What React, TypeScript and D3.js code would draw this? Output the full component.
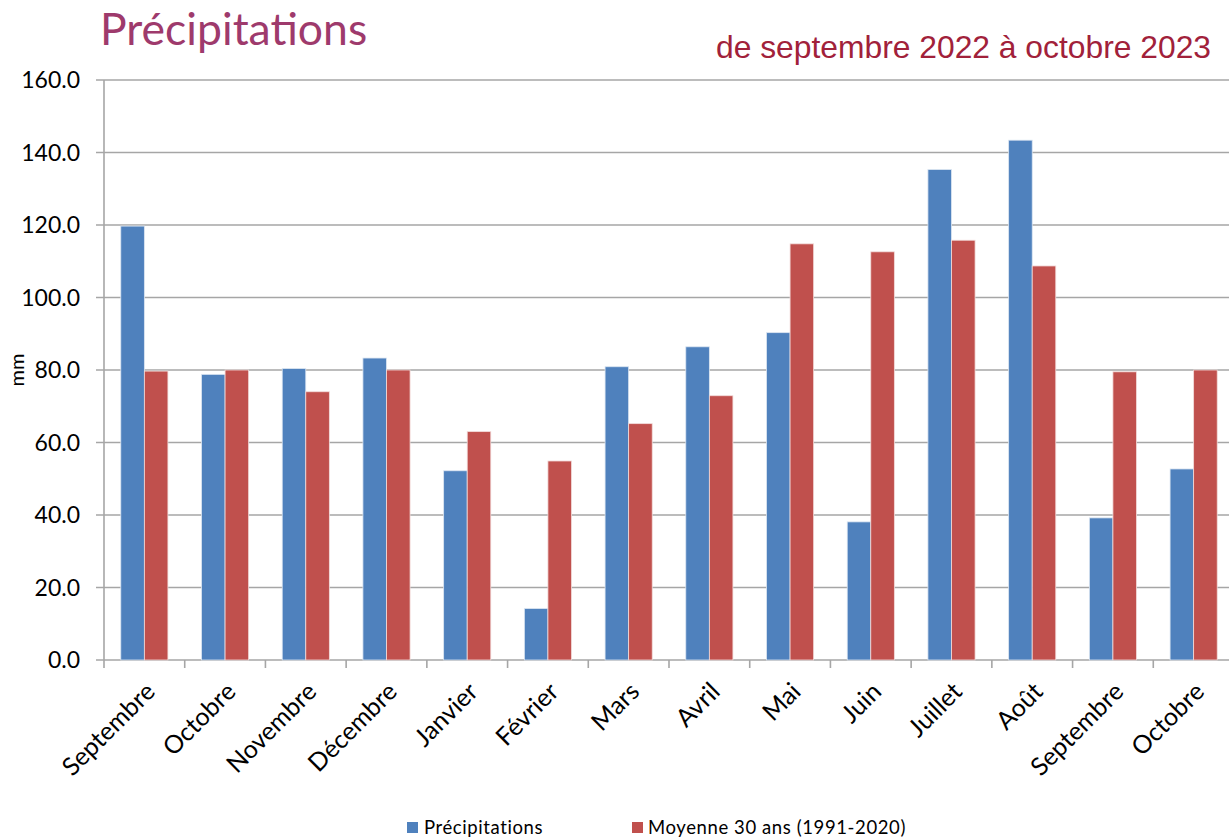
import React from "react";
import * as d3 from "d3";

const categories = ["Septembre","Octobre","Novembre","Décembre","Janvier","Février","Mars","Avril","Mai","Juin","Juillet","Août","Septembre","Octobre"];
const precipitations = [119.7,78.8,80.4,83.3,52.2,14.2,80.9,86.4,90.3,38.1,135.3,143.4,39.2,52.7];
const moyenne = [79.7,80.0,74.0,80.0,63.0,54.9,65.2,72.9,114.8,112.6,115.8,108.7,79.5,80.0];
const yTicks = [0,20,40,60,80,100,120,140,160];

const W = 1229, H = 840;
const left = 104, top = 80, bottom = 660, right = 1234;

export default function App() {
  const x = d3.scaleBand<number>().domain(d3.range(categories.length)).range([left, right]);
  const y = d3.scaleLinear().domain([0, 160]).range([bottom, top]);
  const bw = x.bandwidth();
  const barW = bw * 0.292;
  const off = (bw - 2 * barW) / 2;
  const font = "Lato, 'Open Sans', sans-serif";
  return (
    <svg width={W} height={H} style={{ position: "absolute", left: 0, top: 0, background: "#fff" }}>
      <text x={100} y={45} fontFamily={font} fontSize={44.5} fill="#9E3A6C">Précipitations</text>
      <text x={1211} y={58} textAnchor="end" fontFamily="'Liberation Sans', Arial, sans-serif" fontSize={31.8} fill="#A1213A">de septembre 2022 à octobre 2023</text>
      {yTicks.map(t => (
        <g key={t}>
          <line x1={96} x2={right} y1={y(t)} y2={y(t)} stroke="#A6A6A6" strokeWidth={1.6} />
          <text x={80} y={y(t)} dy="0.35em" textAnchor="end" fontFamily={font} fontSize={23} fill="#000">{t.toFixed(1)}</text>
        </g>
      ))}
      <line x1={left} x2={left} y1={top} y2={bottom} stroke="#A6A6A6" strokeWidth={1.6} />
      {d3.range(categories.length + 1).map(i => {
        const xx = left + i * bw;
        return <line key={i} x1={xx} x2={xx} y1={bottom} y2={bottom + 8} stroke="#A6A6A6" strokeWidth={1.6} />;
      })}
      {categories.map((c, i) => {
        const x0 = x(i)!;
        return (
          <g key={i}>
            <rect x={x0 + off} y={y(precipitations[i])} width={barW} height={bottom - y(precipitations[i])} fill="#4F81BD" stroke="#DCE6F2" strokeWidth={0.8} />
            <rect x={x0 + off + barW} y={y(moyenne[i])} width={barW} height={bottom - y(moyenne[i])} fill="#C0504D" stroke="#F2DCDB" strokeWidth={0.8} />
            <text transform={`translate(${x0 + bw / 2 + 6},${bottom + 27}) rotate(-45)`} textAnchor="end" dy="0.35em" fontFamily={font} fontSize={25} fill="#000">{c}</text>
          </g>
        );
      })}
      <text transform={`translate(24,370) rotate(-90)`} textAnchor="middle" fontFamily={font} fontSize={20} fill="#000">mm</text>
      <rect x={407} y={822} width={11} height={11} fill="#4F81BD" />
      <text x={424} y={834} fontFamily={font} fontSize={18.5} letterSpacing={0.6} fill="#000">Précipitations</text>
      <rect x={632} y={822} width={11} height={11} fill="#C0504D" />
      <text x={648} y={834} fontFamily={font} fontSize={18.5} letterSpacing={0.6} fill="#000">Moyenne 30 ans (1991-2020)</text>
    </svg>
  );
}
